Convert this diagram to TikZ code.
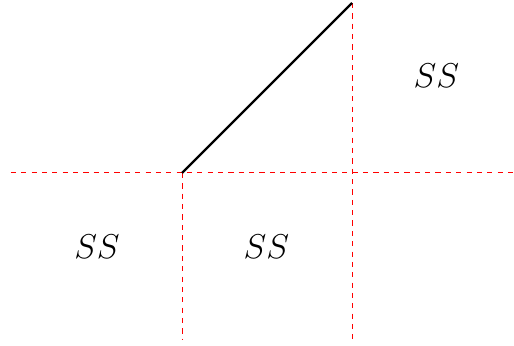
\documentclass[tikz,border=0pt]{standalone}
\usepackage{tikz}
\usetikzlibrary{calc}
\tikzset{
  guide/.style={red, line width=0.5pt, dash pattern=on 2.6pt off 2.6pt},
  edge/.style={black, line width=1.1pt},
  lbl/.style={font=\fontsize{16}{19}\selectfont, inner sep=0pt},
}

\begin{document}
\begin{tikzpicture}
        \useasboundingbox (-3.212,-3.053) rectangle (5.859,3.053);
        \coordinate (O) at (0,0);
        \coordinate (P) at (3,3);
        \coordinate (hl) at (-3.02,0);
        \coordinate (hr) at (5.84,0);
        \coordinate (bl) at (0,-2.93);
        \coordinate (br) at (3,-2.93);
        \draw[guide] (hl)--(hr);
        \draw[guide] (O)--(bl);
        \draw[guide] (P)--(br);
        \draw[edge] (O)--(P);
        \node[lbl] (ssl) at (-1.5,-1.31) {$SS$};
        \node[lbl] (ssm) at (1.49,-1.31) {$SS$};
        \node[lbl] (ssr) at (4.49,1.71) {$SS$};
      \end{tikzpicture}
\end{document}
